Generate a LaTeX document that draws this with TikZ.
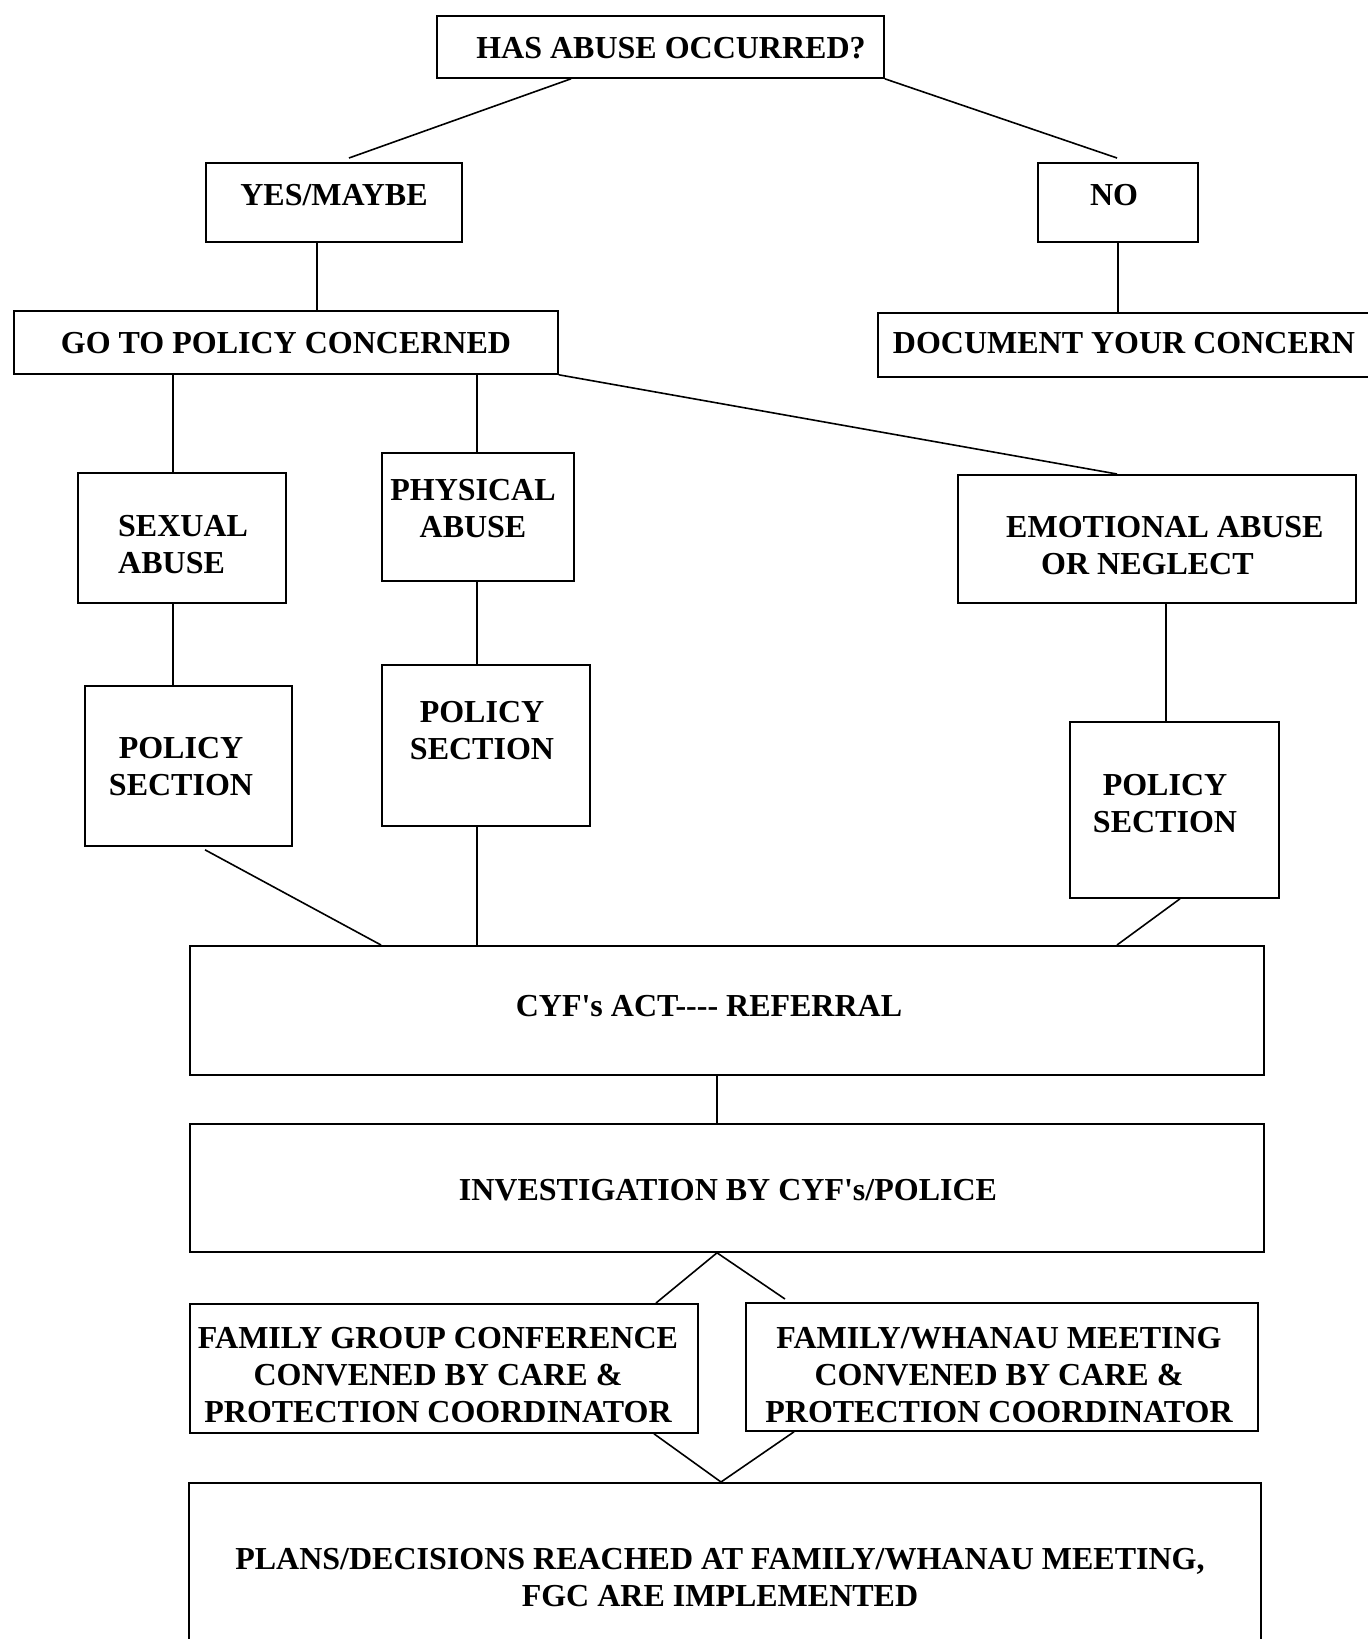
\documentclass[tikz,border=0pt]{standalone}
\usepackage{fontspec}
\setmainfont{Liberation Serif}[Ligatures=TeXOff]
\usepackage{tikz}
\usetikzlibrary{positioning,calc}

\tikzset{
  box/.style 2 args={draw, line width=1.8pt, anchor=north west, inner sep=0pt,
    minimum width=#1, minimum height=#2},
  txt/.style={font=\fontsize{32}{37}\selectfont\bfseries, align=center, inner sep=0pt},
  link/.style={line width=1.6pt}
}

\begin{document}
\begin{tikzpicture}[x=1pt, y=-1pt]
\useasboundingbox (0,0) rectangle (1368,1639);
\clip (0,0) rectangle (1368,1639);

% Question
\node[box={447}{62}] (q) at (436,15) {};
\node[txt] (q-t) at (671,48) {HAS ABUSE OCCURRED?};

% Yes / No
\node[box={256}{79}] (yes) at (205,162) {};
\node[txt] (yes-t) at (334,195) {YES/MAYBE};
\node[box={160}{79}] (no) at (1037,162) {};
\node[txt] (no-t) at (1114,195) {NO};

% Second row
\node[box={544}{63}] (go) at (13,310) {};
\node[txt] (go-t) at (286,343) {GO TO POLICY CONCERNED};
\node[box={520}{64}] (doc) at (877,312) {};
\node[txt] (doc-t) at (1124,343) {DOCUMENT YOUR CONCERN};

% Kinds of abuse
\node[box={208}{130}] (sex) at (77,472) {};
\node[txt, align=left, anchor=west] (sex-t) at (118,545) {SEXUAL\\ABUSE};
\node[box={192}{128}] (phy) at (381,452) {};
\node[txt] (phy-t) at (473,509) {PHYSICAL\\ABUSE};
\node[box={398}{128}] (emo) at (957,474) {};
\node[txt, align=left, anchor=west] (emo-t) at (1006,546) {EMOTIONAL ABUSE\\\hspace{35pt}OR NEGLECT};

% Policy sections
\node[box={207}{160}] (pol1) at (84,685) {};
\node[txt] (pol1-t) at (181,767) {POLICY\\SECTION};
\node[box={208}{161}] (pol2) at (381,664) {};
\node[txt] (pol2-t) at (482,731) {POLICY\\SECTION};
\node[box={209}{176}] (pol3) at (1069,721) {};
\node[txt] (pol3-t) at (1165,804) {POLICY\\SECTION};

% Referral and investigation
\node[box={1074}{129}] (cyf) at (189,945) {};
\node[txt] (cyf-t) at (709,1006) {CYF's ACT---- REFERRAL};
\node[box={1074}{128}] (inv) at (189,1123) {};
\node[txt] (inv-t) at (728,1190) {INVESTIGATION BY CYF's/POLICE};

% Meetings
\node[box={508}{129}] (fgc) at (189,1303) {};
\node[txt] (fgc-t) at (438,1375) {FAMILY GROUP CONFERENCE\\CONVENED BY CARE \&\\PROTECTION COORDINATOR};
\node[box={512}{128}] (wm) at (745,1302) {};
\node[txt] (wm-t) at (999,1375) {FAMILY/WHANAU MEETING\\CONVENED BY CARE \&\\PROTECTION COORDINATOR};

% Outcome
\node[box={1072}{200}] (plans) at (188,1482) {};
\node[txt] (plans-t) at (720,1578) {PLANS/DECISIONS REACHED AT FAMILY/WHANAU MEETING,\\FGC ARE IMPLEMENTED};

% Connectors
\draw[link] ([xshift=135pt]q.south west) -- ([xshift=144pt,yshift=4pt]yes.north west);
\draw[link] (q.south east) -- ([xshift=80pt,yshift=4pt]no.north west);
\draw[link] ([xshift=112pt]yes.south west) -- ([xshift=304pt]go.north west);
\draw[link] ([xshift=81pt]no.south west) -- ([xshift=241pt]doc.north west);
\draw[link] ([xshift=160pt]go.south west) -- ([xshift=96pt]sex.north west);
\draw[link] ([xshift=464pt]go.south west) -- ([xshift=96pt]phy.north west);
\draw[link] (go.south east) -- ([xshift=160pt]emo.north west);
\draw[link] ([xshift=96pt]sex.south west) -- ([xshift=89pt]pol1.north west);
\draw[link] ([xshift=96pt]phy.south west) -- ([xshift=96pt]pol2.north west);
\draw[link] ([xshift=209pt]emo.south west) -- ([xshift=97pt]pol3.north west);
\draw[link] ([xshift=121pt,yshift=-3pt]pol1.south west) -- ([xshift=192pt]cyf.north west);
\draw[link] ([xshift=96pt]pol2.south west) -- ([xshift=288pt]cyf.north west);
\draw[link] ([xshift=111pt]pol3.south west) -- ([xshift=928pt]cyf.north west);
\draw[link] ([xshift=528pt]cyf.south west) -- ([xshift=528pt]inv.north west);
\draw[link] ([xshift=528pt]inv.south west) -- ([xshift=467pt]fgc.north west);
\draw[link] ([xshift=528pt]inv.south west) -- ([xshift=40pt,yshift=3pt]wm.north west);
\draw[link] ([xshift=465pt]fgc.south west) -- ([xshift=533pt]plans.north west);
\draw[link] ([xshift=49pt]wm.south west) -- ([xshift=533pt]plans.north west);
\end{tikzpicture}
\end{document}
